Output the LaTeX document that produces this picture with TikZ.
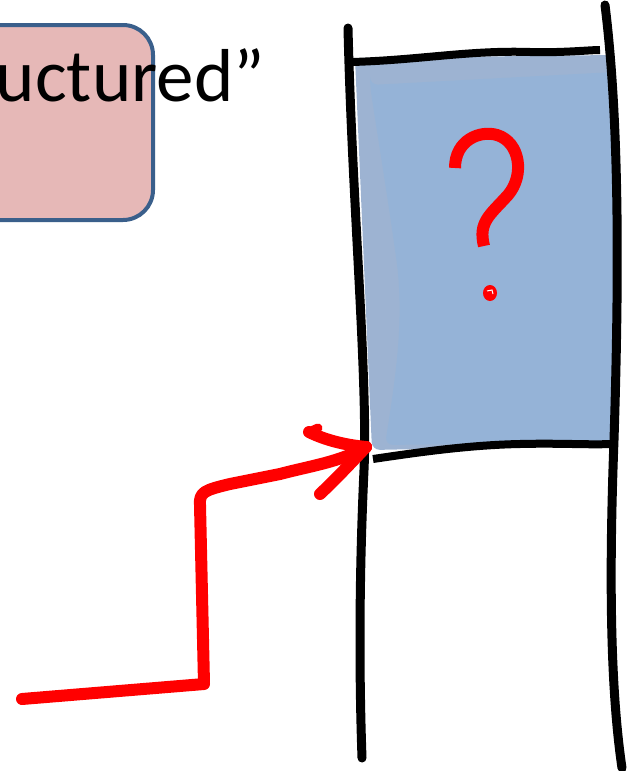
\documentclass[tikz,border=0pt]{standalone}
\usepackage{fontspec}
\setmainfont{Carlito}
\definecolor{pinkfill}{HTML}{E6B8B7}
\definecolor{boxblue}{HTML}{3A5F8B}
\definecolor{colfill}{HTML}{95B3D7}
\definecolor{colfillb}{HTML}{9DB3D2}
\definecolor{inkred}{HTML}{FF0000}
\begin{document}
\begin{tikzpicture}[x=1pt,y=-1pt,
  inkblack/.style={line width=9pt,line cap=round,line join=round,black},
  inkarrow/.style={line width=12pt,line cap=round,line join=round,inkred},
  qmark/.style={line width=12pt,inkred}]
\useasboundingbox (0,0) rectangle (635,771);
% pink rounded box (clipped on the left)
\node[draw=boxblue,line width=4pt,fill=pinkfill,rounded corners=30pt,
      minimum width=200pt,minimum height=195pt,inner sep=0pt] (pbox) at (53,122.5) {};
\node[anchor=base east,inner sep=0pt,font=\fontsize{75}{84}\selectfont] (label) at (265,101) {uctured”};
% blue filled area
\fill[colfillb,rounded corners=8pt] (355,58) -- (612,55) -- (617,445) -- (372,450) -- cycle;
\fill[colfill,rounded corners=8pt] (370,85) -- (615,72) -- (617,442) -- (385,445) .. controls (395,380) and (405,320) .. (395,250) .. controls (385,180) and (375,120) .. cycle;
% column lines
\coordinate (lt) at (348,28);
\coordinate (lb) at (362,758);
\coordinate (rt) at (605,5);
\coordinate (rb) at (622,768);
\draw[inkblack] (lt) .. controls (352,200) and (368,380) .. (364,470) .. controls (358,600) and (360,700) .. (lb);
\draw[inkblack] (rt) .. controls (618,110) and (620,250) .. (614,440) .. controls (608,600) and (612,700) .. (rb);
\draw[inkblack,line width=8pt,line cap=butt] (352,62) .. controls (420,60) and (470,50) .. (530,52) .. controls (560,53) and (590,50) .. (600,50);
\draw[inkblack,line width=8pt,line cap=butt] (373,459) .. controls (420,452) and (470,445) .. (520,444) .. controls (560,443) and (590,445) .. (610,444);
% question mark
\draw[qmark] (455,168) .. controls (455,140) and (480,130) .. (497,135) .. controls (520,142) and (525,175) .. (508,195) .. controls (490,215) and (478,222) .. (484,246);
\fill[inkred] (490,293) ellipse (7pt and 8pt);
\draw[white,line width=1pt] (487,291) -- (492,290) -- (493,294);
% red arrow
\coordinate (start) at (22,699);
\coordinate (tip) at (366,447);
\draw[inkarrow] (start) -- (204,684) -- (200,505) .. controls (199,492) and (205,490) .. (230,484) -- (280,474) .. controls (310,466) and (340,462) .. (tip);
\draw[inkarrow] (309,432) .. controls (325,440) and (345,445) .. (tip);
\draw[inkarrow] (320,494) .. controls (335,480) and (352,462) .. (tip);
\draw[inkarrow,line width=9pt] (309,432) -- (318,428);
\end{tikzpicture}
\end{document}
